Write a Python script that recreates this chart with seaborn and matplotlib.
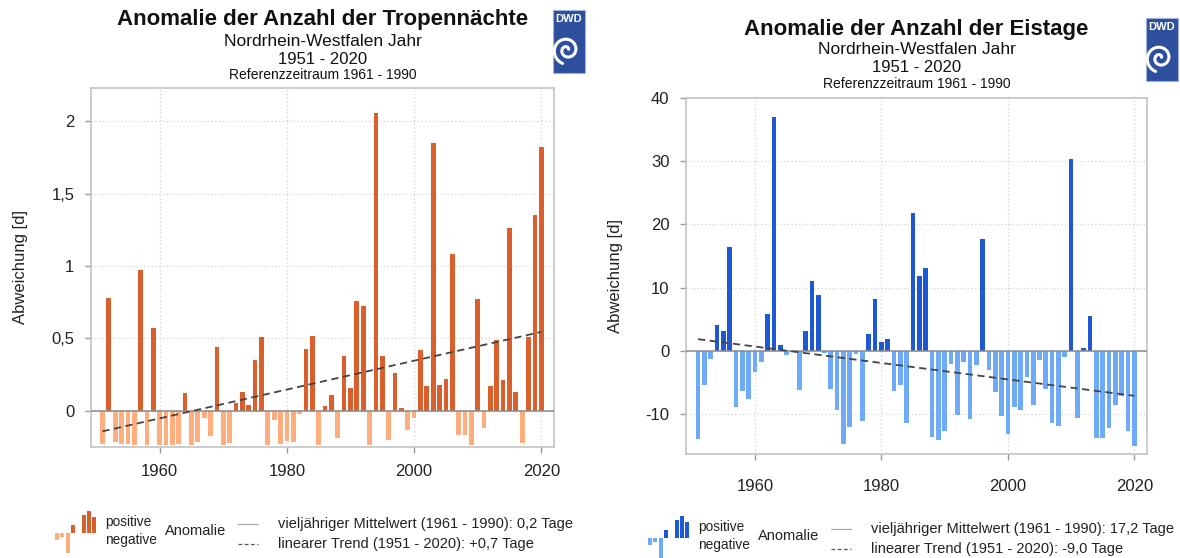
import numpy as np
import pandas as pd
import matplotlib
matplotlib.use("Agg")
import matplotlib.pyplot as plt
import seaborn as sns
from matplotlib.patches import Rectangle
from matplotlib.ticker import FuncFormatter

years = list(range(1951, 2021))

tropen = [
    -0.23, 0.78, -0.215, -0.226, -0.226, -0.233, 0.973, -0.233, 0.57, -0.233,
    -0.233, -0.233, -0.226, 0.12, -0.233, -0.215, -0.053, -0.175, 0.443, -0.233,
    -0.22, 0.055, 0.13, 0.04, 0.35, 0.51, -0.233, -0.065, -0.226, -0.21,
    -0.215, -0.023, 0.43, 0.52, -0.233, 0.03, 0.11, -0.185, 0.38, 0.16,
    0.76, 0.727, -0.233, 2.06, 0.38, -0.20, 0.26, 0.02, -0.134, -0.053,
    0.42, 0.17, 1.85, 0.18, 0.22, 1.08, -0.164, -0.164, -0.233, 0.77,
    -0.122, 0.17, 0.49, 0.21, 1.266, 0.13, -0.22, 0.51, 1.35, 1.82,
]

eistage = [
    -13.9, -5.4, -1.3, 4.1, 3.2, 16.5, -8.8, -6.3, -7.6, -3.3,
    -1.8, 5.8, 37.0, 0.95, -0.6, 0.0, -6.1, 3.2, 11.05, 8.85,
    -0.4, -6.0, -9.3, -14.7, -12.1, -0.5, -11.05, 2.6, 8.2, 1.4,
    1.95, -6.3, -5.4, -11.4, 21.8, 11.8, 13.05, -13.6, -14.05, -12.6,
    -2.05, -10.2, -1.7, -10.7, -2.2, 17.7, -3.0, -6.5, -10.3, -13.2,
    -8.8, -9.3, -4.2, -8.6, -1.5, -6.05, -11.4, -11.9, -1.0, 30.3,
    -10.6, 0.4, 5.6, -13.7, -13.8, -12.2, -8.5, -7.2, -12.6, -15.1,
]

titles = ["Anomalie der Anzahl der Tropennächte", "Anomalie der Anzahl der Eistage"]
subtitle = "Nordrhein-Westfalen Jahr"
period = "1951 - 2020"
refperiod = "Referenzzeitraum 1961 - 1990"
ylabel = "Abweichung [d]"
mean_labels = ["vieljähriger Mittelwert (1961 - 1990): 0,2 Tage",
               "vieljähriger Mittelwert (1961 - 1990): 17,2 Tage"]
trend_labels = ["linearer Trend (1951 - 2020): +0,7 Tage",
                "linearer Trend (1951 - 2020): -9,0 Tage"]
xticks = [1960, 1980, 2000, 2020]
yticks_list = [[0, 0.5, 1, 1.5, 2], [-10, 0, 10, 20, 30, 40]]

pos_colors = ["#d9602c", "#1f58d6"]
neg_colors = ["#ffad7c", "#6eaaf8"]

sns.set_theme(style="white")
plt.rcParams['font.family'] = ['Liberation Sans', 'DejaVu Sans']

W, H = 1180, 558
fig = plt.figure(figsize=(W / 100, H / 100), dpi=100)


def fx(x):
    return x / W


def fy(y):
    return 1 - y / H


# axes boxes in pixels: left, top, right, bottom
boxes = [(91, 88, 554, 447), (686, 98, 1147, 454)]
ylims = [(-0.25, 2.23), (-16.3, 40)]
xlims = [(1949.2, 2022.0), (1949.1, 2022.0)]
xlabel_pads = [8, 14]
ylabel_x = [28, 623]
title_ys = [(20, 41, 60, 75), (29, 49, 68, 84)]
series = [tropen, eistage]


def comma_fmt(v, p):
    if abs(v - round(v)) < 1e-9:
        return f"{int(round(v))}"
    return f"{v:g}".replace(".", ",")


for i in range(2):
    l, t, r, b = boxes[i]
    ax = fig.add_axes([fx(l), fy(b), fx(r) - fx(l), fy(t) - fy(b)])
    vals = series[i]
    df = pd.DataFrame({"year": years, "val": vals,
                       "sign": ["pos" if v >= 0 else "neg" for v in vals]})
    ax.set_axisbelow(True)
    ax.grid(True, which="major", color="#d4d4d4", linestyle=(0, (1, 2)), linewidth=0.9)
    sns.barplot(data=df, x="year", y="val", hue="sign",
                palette={"pos": pos_colors[i], "neg": neg_colors[i]},
                native_scale=True, dodge=False, width=0.74, saturation=1,
                legend=False, ax=ax, linewidth=0)
    ax.axhline(0, color="#8a8a8a", linewidth=1.1, zorder=3)
    coef = np.polyfit(years, vals, 1)
    ends = [years[0], years[-1]]
    sns.lineplot(x=ends, y=np.polyval(coef, ends), ax=ax, color="#444444",
                 linestyle=(0, (4, 2.5)), linewidth=1.3, zorder=4)
    ax.set_xlim(*xlims[i])
    ax.set_ylim(*ylims[i])
    ax.set_xticks(xticks)
    ax.set_yticks(yticks_list[i])
    ax.yaxis.set_major_formatter(FuncFormatter(comma_fmt))
    ax.xaxis.set_major_formatter(FuncFormatter(lambda v, p: f"{int(v)}"))
    ax.set_xlabel("")
    ax.set_ylabel(ylabel, fontsize=12, color="#222222")
    ax.yaxis.set_label_coords((ylabel_x[i] - l) / (r - l), 0.5)
    ax.tick_params(axis="x", direction="out", length=4, width=1, color="#999999",
                   labelsize=12, labelcolor="#222222", pad=xlabel_pads[i], bottom=True)
    ax.tick_params(axis="y", direction="out", length=4, width=1, color="#999999",
                   labelsize=12, labelcolor="#222222", pad=8, left=True)
    for s in ax.spines.values():
        s.set_color("#c4c4c4")
        s.set_linewidth(1.2)

    cx = (l + r) / 2
    ty = title_ys[i]
    fig.text(fx(cx), fy(ty[0]), titles[i], ha="center", va="center",
             fontsize=16, fontweight="bold", color="#111111")
    fig.text(fx(cx), fy(ty[1]), subtitle, ha="center", va="center", fontsize=12.5, color="#111111")
    fig.text(fx(cx), fy(ty[2]), period, ha="center", va="center", fontsize=12, color="#111111")
    fig.text(fx(cx), fy(ty[3]), refperiod, ha="center", va="center", fontsize=10, color="#111111")

    # DWD logo
    lx0, ly0 = (553, 10) if i == 0 else (1146, 18)
    lw_, lh_ = 32, 63
    fig.patches.append(Rectangle((fx(lx0), fy(ly0 + lh_)), fx(lw_), lh_ / H,
                                 transform=fig.transFigure, facecolor="#2d4f9e",
                                 edgecolor="#9fb3dd", linewidth=0.8, zorder=5))
    fig.text(fx(lx0 + 2), fy(ly0 + 9), "DWD", ha="left", va="center", fontsize=8,
             fontweight="bold", color="white", zorder=6)
    th = np.linspace(0.4, 3.4 * np.pi, 200)
    rr = 1.2 + 1.15 * th
    sx = lx0 + 14 + rr * np.cos(th) * 1.05
    sy = ly0 + 40 - rr * np.sin(th) * 1.05
    fig.lines.append(plt.Line2D(fx(sx), fy(sy), transform=fig.transFigure,
                                color="white", linewidth=2.2, zorder=6))

    # legend
    if i == 0:
        ox, oy = 0, 0
    else:
        ox, oy = 593, 5
    base = 533 + oy
    icon = [(55, -7, "n"), (60, -4, "n"), (66, -20, "n"), (71, 8, "p"),
            (82, 18, "p"), (87, 22, "p"), (92, 16, "p")]
    for (bx, bh, kind) in icon:
        col = pos_colors[i] if kind == "p" else neg_colors[i]
        y0 = base - bh if bh > 0 else base
        fig.patches.append(Rectangle((fx(bx + ox), fy(y0 + abs(bh))), fx(3.6), abs(bh) / H,
                                     transform=fig.transFigure, facecolor=col,
                                     edgecolor="none", zorder=5))
    fs = 10.5
    fig.text(fx(105 + ox), fy(522 + oy), "positive", ha="left", va="center", fontsize=9.8, color="#222222")
    fig.text(fx(105 + ox), fy(540 + oy), "negative", ha="left", va="center", fontsize=9.8, color="#222222")
    fig.text(fx(165 + ox), fy(531 + oy), "Anomalie", ha="left", va="center", fontsize=fs, color="#222222")
    fig.lines.append(plt.Line2D([fx(238 + ox), fx(258 + ox)], [fy(524 + oy), fy(524 + oy)],
                                transform=fig.transFigure, color="#aaaaaa", linewidth=0.9))
    fig.lines.append(plt.Line2D([fx(238 + ox), fx(258 + ox)], [fy(544 + oy), fy(544 + oy)],
                                transform=fig.transFigure, color="#555555", linewidth=0.9,
                                linestyle=(0, (3, 2))))
    fig.text(fx(278 + ox), fy(524 + oy), mean_labels[i], ha="left", va="center", fontsize=fs, color="#222222")
    fig.text(fx(278 + ox), fy(544 + oy), trend_labels[i], ha="left", va="center", fontsize=fs, color="#222222")

fig.savefig("out.png", dpi=100)
